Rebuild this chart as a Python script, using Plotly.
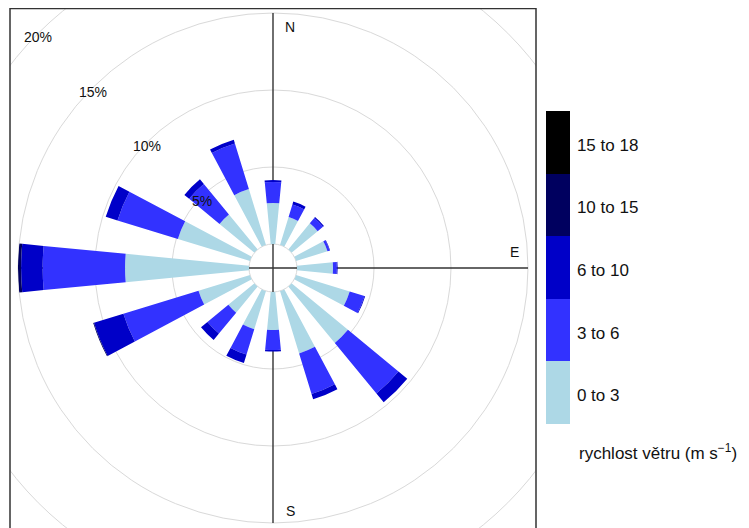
import math
import plotly.graph_objects as go

# ---------------- data ----------------
directions = [0, 22.5, 45, 67.5, 90, 112.5, 135, 157.5, 180, 202.5, 225, 247.5, 270, 292.5, 315, 337.5]
bin_labels = ["0 to 3", "3 to 6", "6 to 10", "10 to 15", "15 to 18"]
# frequency (%) per speed bin for each direction
spd_0_3   = [2.66, 1.90, 2.20, 2.14, 2.34, 3.65, 4.75, 4.24, 2.47, 2.60, 2.20, 3.50, 8.05, 4.90, 2.94, 3.80]
spd_3_6   = [1.37, 0.85, 0.45, 0.15, 0.25, 1.00, 4.25, 2.76, 1.30, 1.72, 1.76, 5.10, 5.35, 4.10, 2.56, 3.10]
spd_6_10  = [0.12, 0.20, 0.08, 0.03, 0.05, 0.05, 0.74, 0.35, 0.10, 0.58, 0.54, 2.00, 1.40, 0.80, 0.40, 0.25]
spd_10_15 = [0.00, 0.00, 0.00, 0.00, 0.00, 0.00, 0.00, 0.00, 0.00, 0.00, 0.00, 0.05, 0.20, 0.00, 0.00, 0.00]
spd_15_18 = [0.00] * 16
series = [spd_0_3, spd_3_6, spd_6_10, spd_10_15, spd_15_18]
ring_values = [5, 10, 15, 20]
ring_labels = ["5%", "10%", "15%", "20%"]
compass = [("N", 0), ("E", 90), ("S", 180)]
legend_title = "rychlost větru (m s<sup>−1</sup>)"

# ---------------- styling / layout ----------------
PAGE_OFF = 8                    # default body margin of the html page
W, H = 749 - PAGE_OFF, 528 - PAGE_OFF
FONT = "Liberation Sans, Arial, sans-serif"
colors = ["#ADD8E6", "#3232FF", "#0000C8", "#00005F", "#000000"]
CX, CY = 273, 268               # centre of rose in screen px
SCALE = 15.4                    # px per percent
OFF_PX = 24                     # hole radius px
OFF = OFF_PX / SCALE            # hole radius in % units
RMAX = 15
R_PX = OFF_PX + RMAX * SCALE
PANEL = dict(l=10, r=536, t=8, b=528)

colorscale = []
n = len(colors)
for i, c in enumerate(colors):
    colorscale.append([i / n, c])
    colorscale.append([(i + 1) / n, c])


def px_x(p):
    return (p - PAGE_OFF) / W


def px_y(p):
    return 1 - (p - PAGE_OFF) / H


fig = go.Figure()

# invisible trace to create cartesian overlay (for rings / axis lines)
fig.add_trace(go.Scatter(x=[0], y=[0], mode="markers", marker=dict(opacity=0),
                         hoverinfo="skip", showlegend=False, xaxis="x", yaxis="y"))

for i, (lab, vals) in enumerate(zip(bin_labels, series)):
    fig.add_trace(go.Barpolar(
        r=vals, theta=directions, name=lab, width=11,
        marker=dict(color=[i] * len(vals), coloraxis="coloraxis", line=dict(width=0)),
        showlegend=False, subplot="polar"))

shapes = []
# rings
for v in [0] + ring_values:
    rr = OFF + v
    shapes.append(dict(type="circle", xref="x", yref="y", x0=-rr, x1=rr, y0=-rr, y1=rr,
                       line=dict(color="#D9D9D9", width=1), layer="below"))
# cross lines
L = OFF + RMAX
shapes.append(dict(type="line", xref="x", yref="y", x0=0, x1=0, y0=-L, y1=L,
                   line=dict(color="#333333", width=1.4), layer="below"))
shapes.append(dict(type="line", xref="x", yref="y", x0=-L, x1=L, y0=0, y1=0,
                   line=dict(color="#333333", width=1.4), layer="below"))
# frame
shapes.append(dict(type="rect", xref="paper", yref="paper",
                   x0=px_x(PANEL["l"]), x1=px_x(PANEL["r"]), y0=-0.05, y1=px_y(PANEL["t"]) - 0.001,
                   line=dict(color="#333333", width=1.5), layer="above"))

annotations = []
for v, lab in zip(ring_values, ring_labels):
    rr = OFF + v
    annotations.append(dict(x=-rr * math.sin(math.pi / 4), y=rr * math.cos(math.pi / 4),
                            xref="x", yref="y", text=lab, showarrow=False, yshift=-4,
                            font=dict(family=FONT, size=14, color="#111111")))
for lab, ang in compass:
    rr = OFF + RMAX
    a = math.radians(ang)
    x = rr * math.sin(a)
    y = rr * math.cos(a)
    xs, ys = 17, -14
    if ang == 90:
        xs, ys = -14, 16
    if ang == 180:
        xs, ys = 17, 12
    annotations.append(dict(x=x, y=y, xref="x", yref="y", text=lab, showarrow=False,
                            xshift=xs, yshift=ys,
                            font=dict(family=FONT, size=14, color="#111111")))
annotations.append(dict(x=px_x(577), y=px_y(452), xref="paper", yref="paper", text=legend_title,
                        showarrow=False, xanchor="left", yanchor="middle",
                        font=dict(family=FONT, size=17, color="#111111")))

fig.update_layout(
    width=W, height=H, margin=dict(l=0, r=0, t=0, b=0),
    paper_bgcolor="white", plot_bgcolor="rgba(0,0,0,0)",
    xaxis=dict(domain=[px_x(PANEL["l"]), px_x(PANEL["r"])],
               range=[-(CX - PANEL["l"]) / SCALE, (PANEL["r"] - CX) / SCALE],
               visible=False, fixedrange=True),
    yaxis=dict(domain=[0, px_y(PANEL["t"])],
               range=[-(PANEL["b"] - CY) / SCALE, (CY - PANEL["t"]) / SCALE],
               visible=False, fixedrange=True),
    polar=dict(
        domain=dict(x=[px_x(CX - R_PX), px_x(CX + R_PX)], y=[px_y(CY + R_PX), px_y(CY - R_PX)]),
        bgcolor="rgba(0,0,0,0)", hole=OFF_PX / R_PX, barmode="stack",
        radialaxis=dict(range=[0, RMAX], visible=False, showgrid=False),
        angularaxis=dict(direction="clockwise", rotation=90, showgrid=False, showline=False,
                         showticklabels=False, ticks=""),
    ),
    coloraxis=dict(
        colorscale=colorscale, cmin=-0.5, cmax=n - 0.5,
        colorbar=dict(x=px_x(546), xanchor="left", xpad=0, thickness=24,
                      len=313, lenmode="pixels", y=px_y(267.5), yanchor="middle", ypad=0,
                      outlinewidth=0, tickvals=[i - 0.04 for i in range(n)], ticktext=bin_labels,
                      ticks="outside", ticklen=4, tickcolor="rgba(0,0,0,0)",
                      tickfont=dict(family=FONT, size=17, color="#111111")),
    ),
    shapes=shapes, annotations=annotations, showlegend=False,
)

fig.write_html("out.html")
